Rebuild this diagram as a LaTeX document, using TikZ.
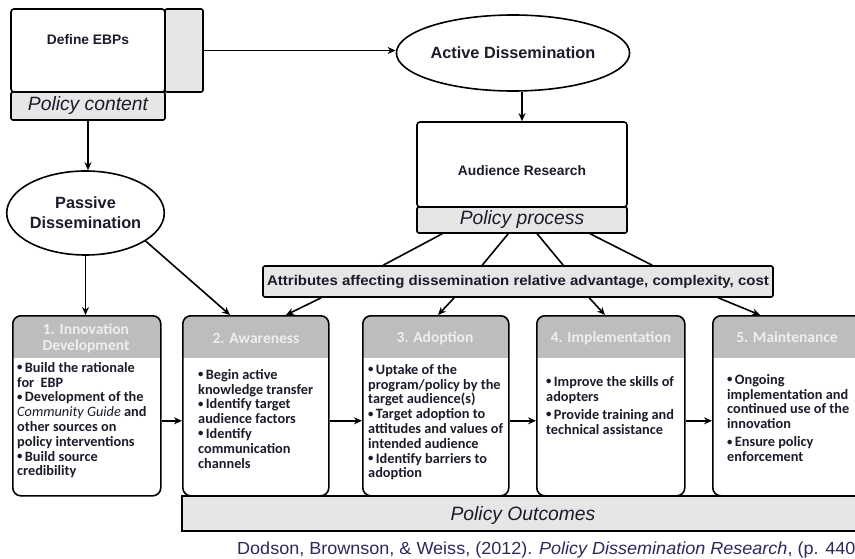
\documentclass[tikz,border=0pt]{standalone}
\usepackage{fontspec}
\setmainfont{Liberation Sans}
\newfontfamily\bodyfont{Carlito}
\usetikzlibrary{arrows.meta,shapes.geometric}

\definecolor{ink}{HTML}{1B1B2B}
\definecolor{texture}{HTML}{E6E6E6}
\definecolor{hdr}{HTML}{BDBDBD}
\definecolor{hdrtext}{HTML}{EEEEEE}
\definecolor{citecol}{HTML}{33265A}

% small raised bullet used in the stage lists
\newcommand{\bul}{\raisebox{1.5pt}{\scalebox{0.75}{\textbullet}}\,}

\tikzset{
  arr/.style={draw=black, line width=1.6pt, -{Stealth[length=8pt,width=7pt]}},
  link/.style={draw=black, line width=1.6pt},
  plainbox/.style={draw=black, line width=1.6pt, fill=white, rounded corners=3pt, inner sep=0pt},
  texbox/.style={draw=black, line width=1.6pt, fill=texture, rounded corners=2pt, inner sep=0pt, text=ink},
  oval/.style={ellipse, draw=black, line width=1.6pt, fill=white, inner sep=0pt, text=ink,
    font=\bfseries\fontsize{16.3}{20}\selectfont, align=center},
  stage/.style={draw=black, line width=1.6pt, fill=white, rounded corners=8pt,
    minimum width=#1, minimum height=180pt, inner sep=0pt, anchor=north west,
    path picture={\fill[hdr, sharp corners] (path picture bounding box.north west)
      rectangle ([yshift=-42pt]path picture bounding box.north east);}},
  head/.style={text=hdrtext, font=\bodyfont\bfseries\fontsize{15.5}{16.5}\selectfont, align=center},
  body/.style={text=ink, font=\bodyfont\bfseries\fontsize{14.3}{14.8}\selectfont, align=left,
    anchor=north west, inner sep=0pt},
  slanted label/.style={text=ink, font=\itshape\fontsize{19.3}{22}\selectfont},
  small title/.style={text=ink, font=\bfseries\fontsize{13.8}{16}\selectfont}
}

\begin{document}
\begin{tikzpicture}[x=1pt,y=-1pt]
\useasboundingbox (0,0) rectangle (855,559);

% policy content block
\node[plainbox, minimum width=154pt, minimum height=83pt] (ebp) at (88,50.5) {};
\node[texbox, minimum width=38pt, minimum height=83pt] (ebpside) at (184,50.5) {};
\node[texbox, minimum width=154pt, minimum height=28pt, slanted label] (pcontent) at (88,106) {Policy content};
\node[small title] (ebptext) at (88,40) {Define EBPs};

% dissemination ovals
\node[oval, minimum width=204pt, minimum height=76pt] (active) at (513,53) {Active Dissemination};
\node[oval, minimum width=146pt, minimum height=84pt] (passive) at (85.5,213) {Passive\\Dissemination};

% policy process block
\node[plainbox, minimum width=210pt, minimum height=85pt] (aud) at (522,164.5) {};
\node[small title] (audtext) at (522,171) {Audience Research};
\node[texbox, minimum width=210pt, minimum height=26pt, slanted label] (pproc) at (522,220) {Policy process};

% attributes bar
\node[texbox, minimum width=510pt, minimum height=31pt, font=\bfseries\fontsize{14}{16}\selectfont] (attr)
  at (518,281.5) {\scalebox{1.07}[1]{Attributes affecting dissemination relative advantage, complexity, cost}};

% outcomes strip behind the stages
\node[texbox, sharp corners, anchor=north west, minimum width=690pt, minimum height=35pt] (outcomes) at (181,495) {};
\node[slanted label] (outtext) at (523,516) {Policy Outcomes};

% stages
\node[stage=148pt] (s1) at (12,315) {};
\node[stage=146pt] (s2) at (182,315) {};
\node[stage=146pt] (s3) at (362,315) {};
\node[stage=148pt] (s4) at (536,315) {};
\node[stage=160pt] (s5) at (712,315) {};

\node[head] (h1) at (86,338.5) {1. Innovation\\Development};
\node[head] (h2) at (256,338) {2. Awareness};
\node[head] (h3) at (435,338) {3. Adoption};
\node[head] (h4) at (611,338) {4. Implementation};
\node[head] (h5) at (787,337) {5. Maintenance};

\node[body] (b1) at (17,362) {\bul Build the rationale\\for\ \ EBP\\\bul Development of the\\{\mdseries\itshape Community Guide} and\\other sources on\\policy interventions\\\bul Build source\\credibility};
\node[body] (b2) at (198,369) {\bul Begin active\\knowledge transfer\\\bul Identify target\\audience factors\\\bul Identify\\communication\\channels};
\node[body] (b3) at (368,364) {\bul Uptake of the\\program/policy by the\\target audience(s)\\\bul Target adoption to\\attitudes and values of\\intended audience\\\bul Identify barriers to\\adoption};
\node[body] (b4) at (546,376) {\bul Improve the skills of\\adopters\\[3.5pt]\bul Provide training and\\technical assistance};
\node[body] (b5) at (727,374) {\bul Ongoing\\implementation and\\continued use of the\\innovation\\[3.5pt]\bul Ensure policy\\enforcement};

% citation
\node[anchor=base west, inner sep=0pt, text=citecol, font=\fontsize{17.5}{19}\selectfont] (cite) at (237,554)
  {\scalebox{1.03}[1]{Dodson, Brownson, \& Weiss, (2012). \textit{Policy Dissemination Research}, (p. 440}};

% connectors
\draw[arr] (ebpside.east) -- (ebpside.east -| active.west);
\draw[arr] (active.south -| aud.north) -- (aud.north);
\draw[arr] (pcontent.south) -- (pcontent.south |- passive.north);
\draw[arr] (passive.south) -- (passive.south |- s1.north);
\draw[arr] (passive.-25) -- ([xshift=48pt]s2.north west);

\draw[link] ([xshift=26pt]pproc.south west) -- ([xshift=121pt]attr.north west);
\draw[link] ([xshift=92pt]pproc.south west) -- ([xshift=220pt]attr.north west);
\draw[link] ([xshift=121pt]pproc.south west) -- ([xshift=301pt]attr.north west);
\draw[link] ([xshift=174pt]pproc.south west) -- ([xshift=390pt]attr.north west);

\draw[arr] ([xshift=59pt]attr.south west) -- ([xshift=104pt]s2.north west);
\draw[arr] ([xshift=192pt]attr.south west) -- ([xshift=76pt]s3.north west);
\draw[arr] ([xshift=327pt]attr.south west) -- ([xshift=69pt]s4.north west);
\draw[arr] ([xshift=456pt]attr.south west) -- ([xshift=48pt]s5.north west);

\draw[arr] ([yshift=-15pt]s1.east) -- ([yshift=-15pt]s2.west);
\draw[arr] ([yshift=-15pt]s2.east) -- ([yshift=-15pt]s3.west);
\draw[arr] ([yshift=-15pt]s3.east) -- ([yshift=-15pt]s4.west);
\draw[arr] ([yshift=-15pt]s4.east) -- ([yshift=-15pt]s5.west);
\end{tikzpicture}
\end{document}
